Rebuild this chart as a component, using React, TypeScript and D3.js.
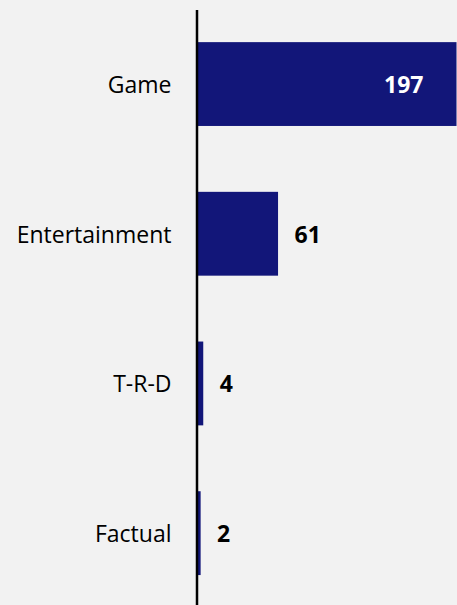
import React, { useEffect, useRef } from "react";
import * as d3 from "d3";

const categories = ["Game", "Entertainment", "T-R-D", "Factual"];
const values = [197, 61, 4, 2];

export default function App() {
  const ref = useRef<SVGSVGElement>(null);
  const W = 457, H = 605;
  useEffect(() => {
    const svg = d3.select(ref.current);
    svg.selectAll("*").remove();
    const x0 = 198;
    const x = d3.scaleLinear().domain([0, 197]).range([x0, 456.5]);
    const y = d3.scaleBand().domain(categories).range([9.2, 608]).paddingInner(0.44).paddingOuter(0.22);
    const fs = 23;
    const base = 8.8;
    svg.append("rect").attr("width", W).attr("height", H).attr("fill", "#f2f2f2");
    const g = svg.append("g");
    g.selectAll("rect.bar").data(values).enter().append("rect")
      .attr("class", "bar")
      .attr("x", x0)
      .attr("y", (_d, i) => y(categories[i])!)
      .attr("width", d => x(d) - x0)
      .attr("height", y.bandwidth())
      .attr("fill", "#121679");
    // category labels
    g.selectAll("text.cat").data(categories).enter().append("text")
      .attr("x", 171.5)
      .attr("y", d => y(d)! + y.bandwidth() / 2 + base)
      .attr("text-anchor", "end")
      .attr("font-family", "Open Sans")
      .attr("font-size", fs)
      .attr("fill", "#000")
      .text(d => d);
    // value labels
    g.selectAll("text.val").data(values).enter().append("text")
      .attr("x", d => d > 150 ? x(d) - 33 : x(d) + 16.5)
      .attr("y", (_d, i) => y(categories[i])! + y.bandwidth() / 2 + base)
      .attr("text-anchor", d => d > 150 ? "end" : "start")
      .attr("font-family", "Open Sans")
      .attr("font-weight", "bold")
      .attr("font-size", fs)
      .attr("fill", d => d > 150 ? "#ffffff" : "#000")
      .text(d => String(d));
    // axis line
    svg.append("line")
      .attr("x1", x0 - 1).attr("x2", x0 - 1)
      .attr("y1", 10).attr("y2", H)
      .attr("stroke", "#000").attr("stroke-width", 2.5);
  }, []);
  return (
    <svg ref={ref} width={W} height={H}
      style={{ position: "absolute", left: 0, top: 0, display: "block" }} />
  );
}
